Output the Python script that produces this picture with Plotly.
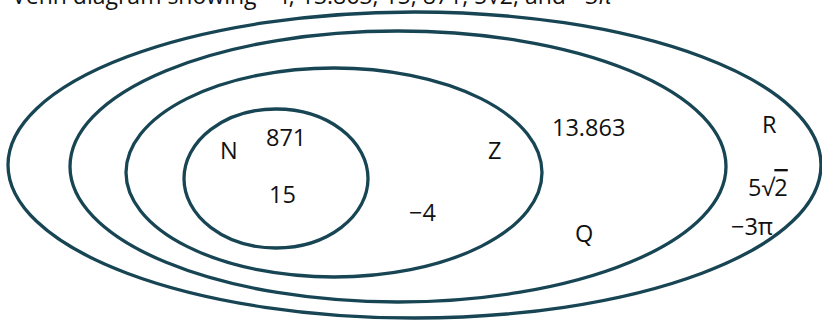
import plotly.graph_objects as go

# Sets (outer to inner): bounding box of each ellipse in chart units
set_names = ["R", "Q", "Z", "N"]
ell_x0 = [8, 70, 126, 184]
ell_x1 = [821, 726, 542, 368]
ell_y0 = [12, 31, 68, 109]
ell_y1 = [318, 302, 277, 248]

# Labels of sets and elements
label_text = ["N", "871", "15", "Z", "−4", "13.863", "Q", "R",
              "5√<span style='text-decoration:overline'>2</span>", "−3π"]
label_x = [229, 286, 282, 494, 422, 588, 584, 769, 768, 752]
label_y = [150, 137, 194, 150, 212, 127, 233, 124, 187, 226]

title_text = "Venn diagram showing −4, 13.863, 15, 871, 5√2, and −3<i>π</i>"

LINE = "#174554"
FONT = "Open Sans"

fig = go.Figure()
fig.add_trace(go.Scatter(x=[0, 822], y=[0, 320], mode="markers",
                         marker=dict(opacity=0), hoverinfo="skip", showlegend=False))

for name, x0, x1, y0, y1 in zip(set_names, ell_x0, ell_x1, ell_y0, ell_y1):
    fig.add_shape(type="circle", xref="x", yref="y", x0=x0, x1=x1, y0=y0, y1=y1,
                  line=dict(color=LINE, width=3.3), fillcolor="rgba(0,0,0,0)", name=name)

for t, x, y in zip(label_text, label_x, label_y):
    fig.add_annotation(x=x, y=y, xref="x", yref="y", text=t, showarrow=False,
                       font=dict(family=FONT, size=23.5, color="#111111"),
                       xanchor="center", yanchor="middle")

fig.add_annotation(x=10 / 822, y=1 + 5 / 320, xref="paper", yref="paper", text=title_text,
                   showarrow=False, font=dict(family=FONT, size=23, color="#111111"),
                   xanchor="left", yanchor="middle")

fig.update_layout(
    width=822, height=320,
    margin=dict(l=0, r=0, t=0, b=0),
    paper_bgcolor="white", plot_bgcolor="white",
    xaxis=dict(range=[0, 822], visible=False, fixedrange=True),
    yaxis=dict(range=[320, 0], visible=False, fixedrange=True),
    showlegend=False,
)

fig.write_html("out.html", config={"displayModeBar": False},
               post_script="document.body.style.margin='0';document.body.style.overflow='hidden';")
